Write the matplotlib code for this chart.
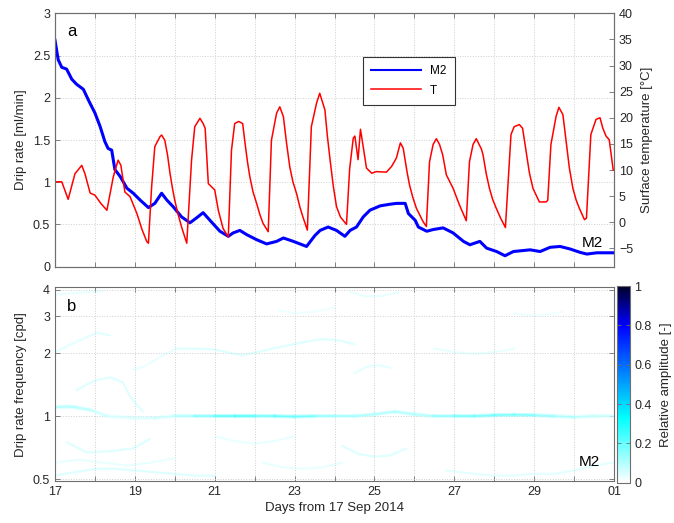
import numpy as np
import matplotlib
matplotlib.use("Agg")
import matplotlib.pyplot as plt
from matplotlib.colors import LinearSegmentedColormap, Normalize
from matplotlib.ticker import FixedLocator, NullLocator

plt.rcParams['font.family'] = ['Liberation Sans', 'DejaVu Sans']

# drip rate M2 [ml/min]
m2_days = [17.0, 17.08, 17.17, 17.29, 17.42, 17.54, 17.71, 17.84, 18.0, 18.13, 18.25, 18.33,
           18.42, 18.5, 18.63, 18.8, 18.96, 19.13, 19.34, 19.5, 19.67, 19.8, 19.96, 20.17,
           20.38, 20.55, 20.71, 20.88, 21.13, 21.34, 21.46, 21.63, 21.8, 22.05, 22.3, 22.55,
           22.72, 22.97, 23.3, 23.51, 23.64, 23.84, 24.05, 24.26, 24.39, 24.55, 24.72, 24.89,
           25.14, 25.39, 25.56, 25.77, 25.85, 26.02, 26.1, 26.31, 26.47, 26.72, 26.97, 27.23,
           27.39, 27.64, 27.81, 28.06, 28.27, 28.48, 28.9, 29.15, 29.4, 29.65, 29.9, 30.15,
           30.32, 30.57, 31.0]
m2_rate = [2.68, 2.45, 2.36, 2.34, 2.22, 2.16, 2.10, 1.97, 1.82, 1.66, 1.48, 1.40,
           1.38, 1.15, 1.07, 0.93, 0.87, 0.79, 0.70, 0.75, 0.87, 0.79, 0.71, 0.59,
           0.52, 0.58, 0.64, 0.55, 0.42, 0.36, 0.40, 0.43, 0.38, 0.32, 0.27, 0.30,
           0.34, 0.30, 0.24, 0.37, 0.43, 0.47, 0.43, 0.36, 0.43, 0.47, 0.59, 0.67,
           0.72, 0.74, 0.75, 0.75, 0.63, 0.55, 0.47, 0.42, 0.44, 0.46, 0.40, 0.30,
           0.26, 0.30, 0.22, 0.18, 0.13, 0.18, 0.20, 0.18, 0.23, 0.24, 0.21, 0.17,
           0.15, 0.165, 0.165]

# surface temperature T [degC]
t_days = [17.0, 17.17, 17.33, 17.5, 17.67, 17.75, 17.88, 18.0, 18.15, 18.3, 18.46, 18.58,
          18.65, 18.75, 18.88, 19.05, 19.18, 19.3, 19.34, 19.42, 19.5, 19.63, 19.67, 19.75,
          19.82, 19.88, 19.94, 20.0, 20.08, 20.17, 20.3, 20.42, 20.5, 20.63, 20.71, 20.76,
          20.84, 21.0, 21.09, 21.21, 21.34, 21.42, 21.5, 21.6, 21.7, 21.76, 21.82, 21.88,
          21.96, 22.05, 22.13, 22.21, 22.34, 22.42, 22.55, 22.63, 22.72, 22.8, 22.88, 22.96,
          23.05, 23.13, 23.21, 23.32, 23.42, 23.55, 23.63, 23.76, 23.82, 23.89, 23.97, 24.05,
          24.15, 24.3, 24.38, 24.47, 24.51, 24.59, 24.65, 24.71, 24.8, 24.93, 25.05, 25.3,
          25.43, 25.55, 25.65, 25.72, 25.76, 25.82, 25.88, 25.96, 26.05, 26.22, 26.3, 26.38,
          26.47, 26.55, 26.63, 26.71, 26.8, 26.97, 27.13, 27.3, 27.38, 27.47, 27.55, 27.68,
          27.72, 27.8, 27.88, 27.96, 28.05, 28.16, 28.28, 28.42, 28.5, 28.63, 28.71, 28.8,
          28.88, 28.97, 29.13, 29.3, 29.34, 29.42, 29.55, 29.62, 29.72, 29.8, 29.88, 29.97,
          30.05, 30.13, 30.26, 30.31, 30.42, 30.55, 30.65, 30.72, 30.8, 30.88, 30.98]
t_temp = [7.75, 7.75, 4.4, 9.3, 10.9, 9.3, 5.6, 5.2, 3.6, 2.3, 8.7, 11.9,
          10.9, 5.8, 4.9, 1.7, -1.4, -3.7, -4.0, 6.8, 14.5, 16.4, 16.7, 15.7,
          12.8, 9.4, 6.6, 4.2, 1.6, -0.9, -4.0, 11.9, 18.3, 19.9, 18.9, 18.0,
          7.4, 6.2, 2.3, -1.2, -2.8, 13.8, 18.9, 19.3, 18.9, 15.1, 11.6, 8.7,
          5.8, 3.6, 1.5, -0.2, -1.8, 15.7, 20.9, 22.1, 20.2, 15.1, 10.6, 7.7,
          5.5, 3.0, 1.0, -1.5, 18.3, 22.8, 24.7, 21.5, 16.6, 11.9, 6.9, 3.0,
          1.0, -0.4, 10.3, 16.1, 16.5, 12.0, 17.8, 14.9, 10.4, 9.4, 9.7, 9.6,
          10.7, 12.3, 15.2, 14.2, 12.3, 9.5, 7.1, 4.8, 2.7, 0.1, -0.8, 11.6,
          14.9, 16.0, 14.9, 12.9, 9.1, 6.5, 3.3, 0.3, 11.6, 14.9, 16.0, 14.0,
          12.9, 9.3, 6.5, 4.4, 2.7, 0.8, -1.0, 16.8, 18.3, 18.7, 18.0, 13.5,
          9.5, 6.5, 3.9, 3.9, 4.2, 14.9, 20.3, 22.0, 20.6, 15.5, 10.5, 6.5,
          4.3, 2.7, 0.5, 0.8, 16.8, 19.7, 20.0, 18.0, 16.5, 15.8, 10.0]

# spectrogram ridges: main daily ridge with amplitude along it
ridge1_days = [17.0, 17.5, 17.9, 18.3, 19.0, 19.5, 20.0, 20.5, 21.0, 21.5, 22.0, 22.5, 23.0,
               23.5, 24.0, 24.5, 25.0, 25.5, 26.0, 26.5, 27.0, 27.5, 28.0, 28.5, 29.0, 29.5,
               30.0, 30.5, 31.0]
ridge1_freq = [1.1, 1.1, 1.07, 1.0, 0.98, 0.98, 1.0, 1.0, 1.0, 1.0, 1.0, 1.0, 0.995,
               1.0, 1.0, 1.0, 1.02, 1.05, 1.02, 1.0, 1.0, 1.0, 1.01, 1.015, 1.01, 1.0,
               0.99, 1.0, 1.0]
ridge1_amp = [0.1, 0.1, 0.08, 0.06, 0.06, 0.06, 0.08, 0.14, 0.2, 0.26, 0.22, 0.18, 0.24,
              0.16, 0.13, 0.13, 0.1, 0.12, 0.1, 0.12, 0.18, 0.2, 0.18, 0.2, 0.16, 0.13,
              0.1, 0.08, 0.08]

# faint ridges (days, freq) with their amplitude
faint_days = [
    [17.0, 17.4, 17.71, 18.05, 18.38],
    [17.54, 17.9, 18.13, 18.4, 18.7, 18.88, 19.2],
    [18.96, 19.3, 19.6, 19.96],
    [17.3, 17.8, 18.38, 18.96, 19.38],
    [17.0, 17.5, 18.0, 18.5, 19.0, 19.5, 20.0, 20.5, 21.0],
    [17.0, 17.6, 18.2, 18.8, 19.4, 20.0],
    [20.0, 20.5, 21.0, 21.4, 21.7, 22.2, 22.7, 23.2, 23.7, 24.1, 24.5],
    [21.0, 21.5, 22.0, 22.5, 23.0],
    [22.2, 22.7, 23.2, 23.7, 24.2],
    [24.2, 24.6, 25.0, 25.4, 25.8],
    [24.5, 24.8, 25.1, 25.4],
    [24.4, 24.8, 25.2, 25.6],
    [22.6, 23.0, 23.5, 24.0],
    [26.8, 27.5, 28.0, 28.5, 29.0, 29.5, 30.0, 30.5, 31.0],
    [26.5, 27.0, 27.5, 28.0, 28.5],
    [28.5, 28.9, 29.3, 29.7],
    [17.0, 17.4, 17.8, 18.2],
    [17.0, 17.3, 17.6, 18.0],
]
faint_freq = [
    [2.02, 2.2, 2.34, 2.5, 2.43],
    [1.33, 1.45, 1.5, 1.53, 1.45, 1.24, 1.05],
    [1.66, 1.75, 1.9, 2.06],
    [0.75, 0.67, 0.68, 0.7, 0.78],
    [0.52, 0.54, 0.56, 0.56, 0.55, 0.54, 0.53, 0.52, 0.52],
    [0.6, 0.62, 0.6, 0.58, 0.6, 0.63],
    [2.1, 2.1, 2.08, 2.0, 1.95, 2.05, 2.15, 2.25, 2.33, 2.3, 2.2],
    [0.8, 0.76, 0.74, 0.76, 0.8],
    [0.6, 0.57, 0.56, 0.57, 0.6],
    [0.72, 0.66, 0.64, 0.65, 0.7],
    [1.6, 1.72, 1.75, 1.7],
    [3.9, 3.72, 3.75, 3.9],
    [3.2, 3.1, 3.15, 3.3],
    [0.55, 0.53, 0.52, 0.52, 0.53, 0.53, 0.55, 0.58, 0.6],
    [2.1, 2.02, 1.98, 2.02, 2.1],
    [3.1, 3.02, 3.05, 3.15],
    [3.8, 3.85, 3.9, 3.95],
    [1.1, 1.12, 1.1, 1.05],
]
faint_amp = [0.1, 0.12, 0.08, 0.12, 0.12, 0.08, 0.12, 0.08, 0.08, 0.12, 0.1, 0.08, 0.06,
             0.1, 0.08, 0.06, 0.08, 0.12]

day_ticks = list(range(17, 32))
day_labels = ['17', '', '19', '', '21', '', '23', '', '25', '', '27', '', '29', '', '01']

cmap = LinearSegmentedColormap.from_list(
    'amp', [(0.0, '#ffffff'), (0.33, '#00ffff'), (0.8, '#0000ff'), (1.0, '#00002a')])
norm = Normalize(0, 1)

spine_c = '#6e6e6e'
text_c = '#262626'
grid_kw = dict(color='#cfcfcf', linestyle=':', linewidth=0.7)


def style_axes(ax):
    for s in ax.spines.values():
        s.set_color(spine_c)
        s.set_linewidth(0.8)
    ax.tick_params(direction='in', length=3.5, width=0.6, color=spine_c,
                   labelcolor=text_c, labelsize=9)


fig = plt.figure(figsize=(6.74, 5.23), dpi=100)

# panel a
ax1 = fig.add_axes([0.0816, 0.490, 0.8294, 0.4846])
ax2 = ax1.twinx()
l1, = ax1.plot(m2_days, m2_rate, color='#0000ff', lw=2.2, zorder=3)
l2, = ax2.plot(t_days, t_temp, color='#ff0000', lw=1.1)
ax1.set_xlim(17, 31)
ax1.set_ylim(0, 3)
ax2.set_ylim(-8.5, 40)
ax1.set_xticks(day_ticks)
ax1.set_yticks(np.arange(0, 3.01, 0.5))
ax1.set_yticklabels(['0', '0.5', '1', '1.5', '2', '2.5', '3'])
ax2.set_yticks(range(-5, 41, 5))
ax1.grid(True, **grid_kw)
style_axes(ax1)
style_axes(ax2)
ax1.tick_params(labelbottom=False, top=True, right=False)
ax2.tick_params(right=True)
ax1.set_ylabel('Drip rate [ml/min]', fontsize=9.5, color=text_c, labelpad=4)
ax2.set_ylabel('Surface temperature [°C]', fontsize=9.5, color=text_c, labelpad=6)
ax1.text(0.022, 0.93, 'a', transform=ax1.transAxes, fontsize=12, va='center', color='k')
ax1.text(0.98, 0.092, 'M2', transform=ax1.transAxes, fontsize=11, ha='right',
         va='center', color='k', zorder=5)
leg = ax2.legend([l1, l2], ['M2', 'T'], loc='upper left', bbox_to_anchor=(0.54, 0.85),
                 fontsize=8.5, handlelength=4.2, fancybox=False, framealpha=1,
                 borderpad=0.7, labelspacing=0.6)
leg.get_frame().set_edgecolor('#333333')
leg.get_frame().set_linewidth(0.8)
leg.get_lines()[0].set_linewidth(1.5)

# panel b
ax3 = fig.add_axes([0.0816, 0.0803, 0.8294, 0.3704])
for d, f, a in zip(faint_days, faint_freq, faint_amp):
    ax3.plot(d, f, color=cmap(norm(a)), lw=1.6, alpha=0.35, solid_capstyle='round')
for i in range(len(ridge1_days) - 1):
    a = 0.5 * (ridge1_amp[i] + ridge1_amp[i + 1])
    ax3.plot(ridge1_days[i:i + 2], ridge1_freq[i:i + 2], color=cmap(norm(a)), lw=3.0,
             alpha=0.35, solid_capstyle='round')
    ax3.plot(ridge1_days[i:i + 2], ridge1_freq[i:i + 2], color=cmap(norm(a)), lw=1.2,
             alpha=0.8, solid_capstyle='round')
ax3.set_yscale('log')
ax3.set_xlim(17, 31)
ax3.set_ylim(0.49, 4.12)
ax3.yaxis.set_major_locator(FixedLocator([0.5, 1, 2, 3, 4]))
ax3.yaxis.set_minor_locator(NullLocator())
ax3.set_yticklabels(['0.5', '1', '2', '3', '4'])
ax3.set_xticks(day_ticks)
ax3.set_xticklabels(day_labels)
ax3.grid(True, **grid_kw)
style_axes(ax3)
ax3.tick_params(top=True, right=True)
ax3.set_ylabel('Drip rate frequency [cpd]', fontsize=9.5, color=text_c, labelpad=4)
ax3.set_xlabel('Days from 17 Sep 2014', fontsize=9.5, color=text_c, labelpad=3)
ax3.text(0.022, 0.9, 'b', transform=ax3.transAxes, fontsize=12, va='center', color='k')
ax3.text(0.975, 0.1, 'M2', transform=ax3.transAxes, fontsize=11, ha='right',
         va='center', color='k')

# colorbar
cax = fig.add_axes([0.916, 0.0771, 0.018, 0.376])
sm = plt.cm.ScalarMappable(norm=norm, cmap=cmap)
cb = fig.colorbar(sm, cax=cax)
cb.set_ticks([0, 0.2, 0.4, 0.6, 0.8, 1])
cb.set_ticklabels(['0', '0.2', '0.4', '0.6', '0.8', '1'])
cb.outline.set_edgecolor(spine_c)
cb.outline.set_linewidth(0.8)
cax.tick_params(direction='in', length=3, width=0.6, color=spine_c, labelcolor=text_c,
                labelsize=9, left=True)
cb.set_label('Relative amplitude [-]', fontsize=9.5, color=text_c, labelpad=6)

fig.savefig('out.png', dpi=100)
